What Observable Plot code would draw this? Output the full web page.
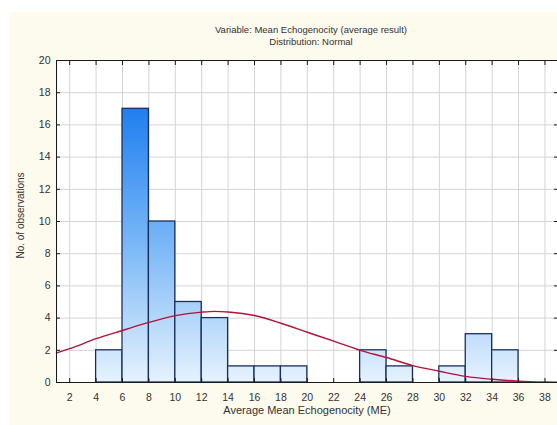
<!DOCTYPE html>
<html>
<head>
<meta charset="utf-8">
<script src="https://cdn.jsdelivr.net/npm/d3@7"></script>
<script src="https://cdn.jsdelivr.net/npm/@observablehq/plot@0.6"></script>
<style>
  html, body { margin: 0; padding: 0; background: #ffffff; }
  #wrap { position: relative; width: 557px; height: 425px; overflow: hidden; }
  #cream { position: absolute; left: 9px; top: 12px; right: 0; bottom: 0; background: #fdfaee; }
  #chart { position: absolute; left: 0; top: 0; }
  svg { font-family: "Liberation Sans", Arial, sans-serif; }
</style>
</head>
<body>
<div id="wrap"><div id="cream"></div><div id="chart"></div></div>
<script>
// Histogram bins (lower and upper edges) and counts
const binStart = [4, 6, 8, 10, 12, 14, 16, 18, 24, 26, 30, 32, 34];
const binEnd   = [6, 8, 10, 12, 14, 16, 18, 20, 26, 28, 32, 34, 36];
const counts   = [2, 17, 10, 5, 4, 1, 1, 1, 2, 1, 1, 3, 2];

// Fitted normal curve
const curveX = [1, 2, 4, 6, 8, 10, 12, 13, 14, 16, 18, 20, 22, 24, 26, 28, 30, 32, 34, 36, 38, 39];
const curveY = [1.84, 2.1, 2.72, 3.23, 3.73, 4.15, 4.37, 4.42, 4.38, 4.16, 3.68, 3.12, 2.57, 2.0, 1.55, 1.05, 0.7, 0.38, 0.2, 0.08, 0.03, 0.02];

const xTicks = d3.range(2, 39, 2);
const yTicks = d3.range(0, 21, 2);

const titleLines = ["Variable: Mean Echogenocity (average result)", "Distribution: Normal"];
const xLabel = "Average Mean Echogenocity (ME)";
const yLabel = "No. of observations";

const bars = binStart.map((s, i) => ({x1: s, x2: binEnd[i], y: counts[i]}));
const curve = curveX.map((x, i) => ({x, y: curveY[i]}));

const plot = Plot.plot({
  width: 557,
  height: 425,
  marginLeft: 56,
  marginRight: 0,
  marginTop: 60,
  marginBottom: 43,
  style: {background: "transparent", color: "#333", fontSize: "10.5px", fontFamily: "Liberation Sans, Arial, sans-serif", overflow: "visible"},
  x: {domain: [1, 38.95], ticks: xTicks, label: null},
  y: {domain: [0, 20], ticks: yTicks, label: null},
  marks: [
    Plot.frame({fill: "white"}),
    Plot.gridX(xTicks, {stroke: "#d4d4d4", strokeOpacity: 1, strokeWidth: 1}),
    Plot.gridY(yTicks, {stroke: "#d4d4d4", strokeOpacity: 1, strokeWidth: 1}),
    Plot.rectY(bars, {x1: "x1", x2: "x2", y1: 0, y2: "y", fill: "url(#barGrad)", stroke: "#1b2f5e", strokeWidth: 1.3}),
    Plot.line(curve, {x: "x", y: "y", stroke: "#b3123c", strokeWidth: 1.4, curve: "monotone-x"}),
    Plot.frame({stroke: "#1a1a1a", strokeWidth: 1}),
    Plot.axisX(xTicks, {anchor: "bottom", tickSize: -4, tickPadding: 15, stroke: "#1a1a1a", fill: "#333"}),
    Plot.axisX(xTicks, {anchor: "top", tickSize: -4, tickFormat: () => "", stroke: "#1a1a1a"}),
    Plot.axisY(yTicks, {anchor: "left", tickSize: -4, tickPadding: 10, stroke: "#1a1a1a", fill: "#333"}),
    Plot.axisY(yTicks, {anchor: "right", tickSize: -4, tickFormat: () => "", stroke: "#1a1a1a"}),
    Plot.text([titleLines[0]], {frameAnchor: "top", dy: -31, dx: 4, lineAnchor: "middle", fontSize: 9.5, fill: "#333"}),
    Plot.text([titleLines[1]], {frameAnchor: "top", dy: -19, dx: 4, lineAnchor: "middle", fontSize: 9.5, fill: "#333"}),
    Plot.text([xLabel], {frameAnchor: "bottom", dy: 28, dx: 0, lineAnchor: "middle", fontSize: 11, fill: "#333"}),
    Plot.text([yLabel], {frameAnchor: "left", dx: -36, dy: -6, rotate: -90, textAnchor: "middle", lineAnchor: "middle", fontSize: 10, fill: "#333"})
  ]
});

// Vertical gradient for bars, spanning from the tallest bar down to zero
const ys = plot.scale("y");
const yTop = ys.apply(d3.max(counts));
const yBot = ys.apply(0);
const ns = "http://www.w3.org/2000/svg";
const defs = document.createElementNS(ns, "defs");
const grad = document.createElementNS(ns, "linearGradient");
grad.setAttribute("id", "barGrad");
grad.setAttribute("gradientUnits", "userSpaceOnUse");
grad.setAttribute("x1", 0); grad.setAttribute("x2", 0);
grad.setAttribute("y1", yTop); grad.setAttribute("y2", yBot);
[["0", "#1f7ff0"], ["0.5", "#7ab8f6"], ["1", "#e6f2fe"]].forEach(([o, c]) => {
  const s = document.createElementNS(ns, "stop");
  s.setAttribute("offset", o); s.setAttribute("stop-color", c);
  grad.appendChild(s);
});
defs.appendChild(grad);
plot.insertBefore(defs, plot.firstChild);

document.getElementById("chart").appendChild(plot);
</script>
</body>
</html>
